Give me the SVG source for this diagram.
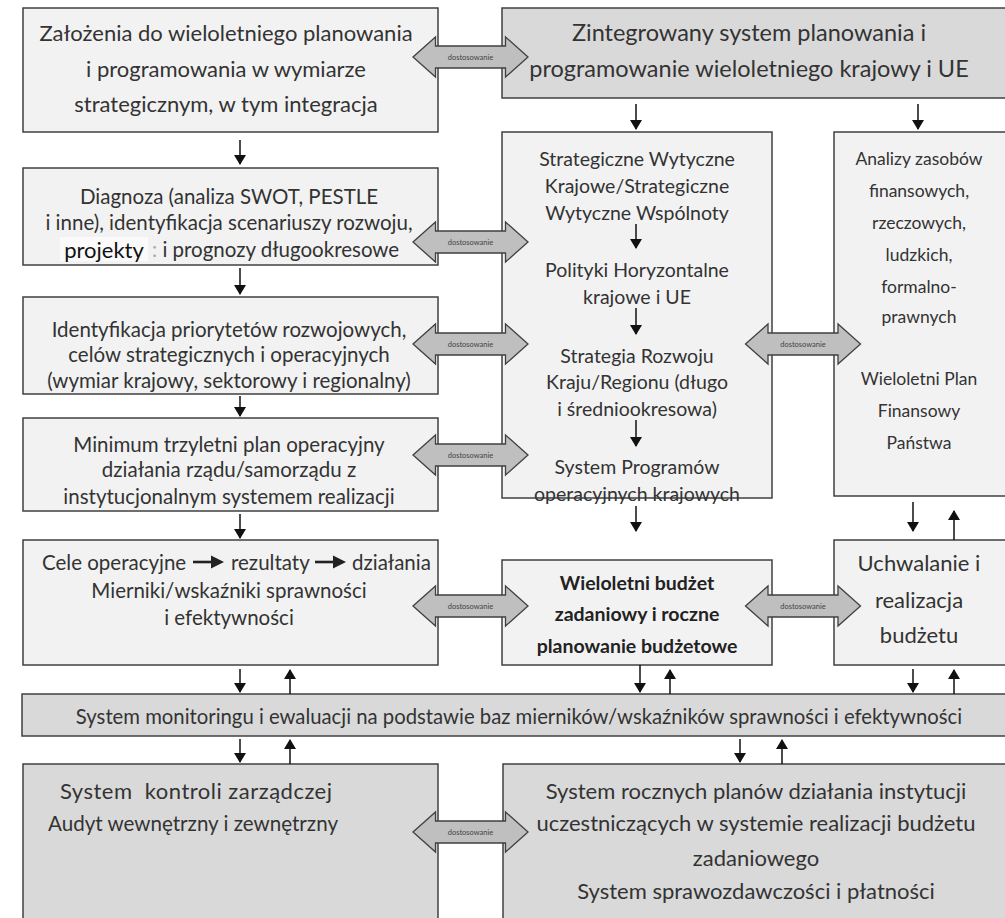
<svg xmlns="http://www.w3.org/2000/svg" xmlns:xlink="http://www.w3.org/1999/xlink" width="1005" height="918" viewBox="0 0 1005 918">
  <style>
    .box { stroke: #404040; stroke-width: 1.5; }
    .light { fill: #f2f2f2; }
    .dark { fill: #d9d9d9; }
    text { font-family: Lato, "Noto Sans", "Liberation Sans", sans-serif; fill: #333333; text-anchor: middle; dominant-baseline: central; }
    .t23 { font-size: 23.5px; }
    .t22 { font-size: 22px; }
    .t21 { font-size: 20.5px; }
    .t20 { font-size: 20.3px; }
    .t19 { font-size: 19.5px; }
    .t17 { font-size: 17.5px; }
    .bold { font-weight: bold; font-size: 19.5px; fill: #222222; }
    .lbl { font-size: 7.5px; fill: #444444; }
    .start { text-anchor: start; }
    .flow { stroke: #111111; stroke-width: 1.5; fill: none; marker-end: url(#tip); }
  </style>
  <defs>
    <marker id="tip" viewBox="0 0 10 12" refX="9" refY="6" markerWidth="10" markerHeight="12" markerUnits="userSpaceOnUse" orient="auto">
      <path d="M0,0 L10,6 L0,12 z" fill="#111111"/>
    </marker>
    <g id="dbl">
      <polygon points="-57.5,0 -35,-20 -35,-11 35,-11 35,-20 57.5,0 35,20 35,11 -35,11 -35,20" fill="#bfbfbf" stroke="#404040" stroke-width="1.3"/>
      <text class="lbl" x="0" y="0">dostosowanie</text>
    </g>
    <!-- inline arrow used inside the "Cele operacyjne" line -->
    <g id="inline-arrow">
      <rect x="0" y="-1.3" width="20" height="2.6" fill="#222222"/>
      <polygon points="18,-6.5 31,0 18,6.5" fill="#222222"/>
    </g>
  </defs>

  <rect width="1005" height="918" fill="#ffffff"/>

  <!-- left column -->
  <g id="zalozenia">
    <rect class="box light" x="23" y="8" width="415" height="124"/>
    <text class="t22" x="226" y="32">Założenia do wieloletniego planowania</text>
    <text class="t22" x="226" y="68">i programowania w wymiarze</text>
    <text class="t22" x="226" y="103">strategicznym, w tym integracja</text>
  </g>
  <g id="diagnoza">
    <rect class="box light" x="23" y="168" width="415" height="97"/>
    <text class="t21" x="229" y="196">Diagnoza (analiza SWOT, PESTLE</text>
    <text class="t21" x="229" y="222">i inne), identyfikacja scenariuszy rozwoju,</text>
    <rect x="60" y="237" width="88" height="24" fill="#fafafa"/>
    <text class="t22" x="104" y="249" style="fill:#111111">projekty</text>
    <text class="t21 start" x="152" y="249"><tspan style="fill:#aaaaaa">:</tspan> i prognozy długookresowe</text>
  </g>
  <g id="priorytety">
    <rect class="box light" x="23" y="297" width="415" height="97"/>
    <text class="t21" x="229" y="329">Identyfikacja priorytetów rozwojowych,</text>
    <text class="t21" x="229" y="354">celów strategicznych i operacyjnych</text>
    <text class="t21" x="229" y="380">(wymiar krajowy, sektorowy i regionalny)</text>
  </g>
  <g id="plan-operacyjny">
    <rect class="box light" x="23" y="418" width="415" height="93"/>
    <text class="t21" x="229" y="444">Minimum trzyletni plan operacyjny</text>
    <text class="t21" x="229" y="469">działania rządu/samorządu z</text>
    <text class="t21" x="229" y="496">instytucjonalnym systemem realizacji</text>
  </g>
  <g id="cele">
    <rect class="box light" x="23" y="540" width="415" height="125"/>
    <text class="t21 start" x="42" y="562">Cele operacyjne</text>
    <use xlink:href="#inline-arrow" x="193" y="562"/>
    <text class="t21 start" x="231" y="562">rezultaty</text>
    <use xlink:href="#inline-arrow" x="315" y="562"/>
    <text class="t21 start" x="352" y="562">działania</text>
    <text class="t21" x="229" y="590">Mierniki/wskaźniki sprawności</text>
    <text class="t21" x="229" y="617">i efektywności</text>
  </g>
  <g id="kontrola">
    <rect class="box dark" x="23" y="764" width="415" height="160"/>
    <text class="t22" x="196" y="790" xml:space="preserve" textLength="272" lengthAdjust="spacing">System  kontroli zarządczej</text>
    <text class="t22" x="193" y="822" textLength="290" lengthAdjust="spacingAndGlyphs">Audyt wewnętrzny i zewnętrzny</text>
  </g>

  <!-- middle / right -->
  <g id="zintegrowany">
    <rect class="box dark" x="502" y="8" width="506" height="90"/>
    <text class="t23" x="749" y="32">Zintegrowany system planowania i</text>
    <text class="t23" x="749" y="68">programowanie wieloletniego krajowy i UE</text>
  </g>
  <g id="wytyczne">
    <rect class="box light" x="502" y="132" width="270" height="366"/>
    <text class="t19" x="637" y="158">Strategiczne Wytyczne</text>
    <text class="t19" x="637" y="185">Krajowe/Strategiczne</text>
    <text class="t19" x="637" y="212">Wytyczne Wspólnoty</text>
    <text class="t19" x="637" y="269">Polityki Horyzontalne</text>
    <text class="t19" x="637" y="296">krajowe i UE</text>
    <text class="t19" x="637" y="355">Strategia Rozwoju</text>
    <text class="t19" x="637" y="381">Kraju/Regionu (długo</text>
    <text class="t19" x="637" y="408">i średniookresowa)</text>
    <text class="t19" x="637" y="466">System Programów</text>
    <text class="t19" x="637" y="493">operacyjnych krajowych</text>
  </g>
  <g id="analizy">
    <rect class="box light" x="834" y="132" width="174" height="364"/>
    <text class="t17" x="919" y="158">Analizy zasobów</text>
    <text class="t17" x="919" y="190">finansowych,</text>
    <text class="t17" x="919" y="222">rzeczowych,</text>
    <text class="t17" x="919" y="254">ludzkich,</text>
    <text class="t17" x="919" y="286">formalno-</text>
    <text class="t17" x="919" y="316">prawnych</text>
    <text class="t17" x="919" y="378">Wieloletni Plan</text>
    <text class="t17" x="919" y="410">Finansowy</text>
    <text class="t17" x="919" y="442">Państwa</text>
  </g>
  <g id="budzet-zadaniowy">
    <rect class="box light" x="502" y="560" width="270" height="105"/>
    <text class="bold" x="637" y="582">Wieloletni budżet</text>
    <text class="bold" x="637" y="613">zadaniowy i roczne</text>
    <text class="bold" x="637" y="645">planowanie budżetowe</text>
  </g>
  <g id="uchwalanie">
    <rect class="box light" x="834" y="540" width="174" height="125"/>
    <text class="t22" x="919" y="562">Uchwalanie i</text>
    <text class="t22" x="919" y="599">realizacja</text>
    <text class="t22" x="919" y="634">budżetu</text>
  </g>
  <g id="monitoring">
    <rect class="box dark" x="22" y="694" width="986" height="42"/>
    <text class="t20" x="519" y="716">System monitoringu i ewaluacji na podstawie baz mierników/wskaźników sprawności i efektywności</text>
  </g>
  <g id="plany-roczne">
    <rect class="box dark" x="503" y="764" width="505" height="160"/>
    <text class="t22" x="756" y="790">System rocznych planów działania instytucji</text>
    <text class="t22" x="756" y="822">uczestniczących w systemie realizacji budżetu</text>
    <text class="t22" x="756" y="857">zadaniowego</text>
    <text class="t22" x="756" y="890">System sprawozdawczości i płatności</text>
  </g>

  <!-- connectors -->
  <g id="connectors">
    <line class="flow" x1="240" y1="140" x2="240" y2="164"/>
    <line class="flow" x1="240" y1="268" x2="240" y2="294"/>
    <line class="flow" x1="240" y1="396" x2="240" y2="416"/>
    <line class="flow" x1="240" y1="514" x2="240" y2="538"/>
    <line class="flow" x1="636" y1="104" x2="636" y2="129"/>
    <line class="flow" x1="918" y1="104" x2="918" y2="129"/>
    <line class="flow" x1="636" y1="224" x2="636" y2="248"/>
    <line class="flow" x1="636" y1="308" x2="636" y2="334"/>
    <line class="flow" x1="636" y1="420" x2="636" y2="446"/>
    <line class="flow" x1="636" y1="506" x2="636" y2="531"/>
    <line class="flow" x1="913" y1="502" x2="913" y2="531"/>
    <line class="flow" x1="954" y1="540" x2="954" y2="511"/>
    <line class="flow" x1="240" y1="669" x2="240" y2="692"/>
    <line class="flow" x1="290" y1="694" x2="290" y2="670"/>
    <line class="flow" x1="640" y1="665" x2="640" y2="692"/>
    <line class="flow" x1="670" y1="694" x2="670" y2="670"/>
    <line class="flow" x1="913" y1="669" x2="913" y2="692"/>
    <line class="flow" x1="954" y1="694" x2="954" y2="670"/>
    <line class="flow" x1="240" y1="739" x2="240" y2="762"/>
    <line class="flow" x1="290" y1="764" x2="290" y2="740"/>
    <line class="flow" x1="740" y1="739" x2="740" y2="762"/>
    <line class="flow" x1="782" y1="764" x2="782" y2="740"/>

    <use xlink:href="#dbl" x="470.5" y="57"/>
    <use xlink:href="#dbl" x="470.5" y="242"/>
    <use xlink:href="#dbl" x="470.5" y="344"/>
    <use xlink:href="#dbl" x="470.5" y="455"/>
    <use xlink:href="#dbl" x="470.5" y="606"/>
    <use xlink:href="#dbl" x="803" y="344"/>
    <use xlink:href="#dbl" x="803" y="606"/>
    <use xlink:href="#dbl" x="470.5" y="832"/>
  </g>
</svg>
